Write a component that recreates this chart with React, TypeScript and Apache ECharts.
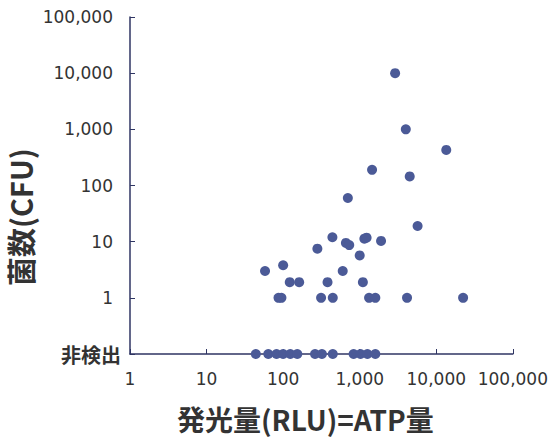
import React, { useEffect, useRef } from "react";
import * as echarts from "echarts";

// Detected samples: RLU (x) vs CFU (y)
const rluDetected = [2900, 4000, 13500, 1450, 4500, 700, 5700, 440, 660, 730, 1150, 1230, 1900, 280, 1000, 58, 100, 600, 122, 162, 380, 1100, 87, 95, 313, 445, 1325, 1600, 4150, 22400];
const cfuDetected = [10000, 1000, 430, 190, 145, 60, 19, 12, 9.5, 8.7, 11.3, 11.8, 10.3, 7.5, 5.7, 3.0, 3.8, 3.0, 1.9, 1.9, 1.9, 1.9, 1, 1, 1, 1, 1, 1, 1, 1];
// Not-detected samples (plotted on the 非検出 baseline)
const rluNotDetected = [44, 64, 82, 100, 124, 153, 261, 321, 445, 832, 1024, 1261, 1600];
const notDetectedLevel = 0.1;

const xTitle = "発光量(RLU)=ATP量";
const yTitle = "菌数(CFU)";
const notDetectedLabel = "非検出";

const fmt = (v: number) => Math.round(v).toString().replace(/\B(?=(\d{3})+(?!\d))/g, ",");

export default function App() {
  const ref = useRef<HTMLDivElement>(null);
  useEffect(() => {
    if (!ref.current) return;
    const chart = echarts.init(ref.current, null, { renderer: "svg" });
    const axisColor = "#2f3563";
    const textColor = "#333333";
    const pts = [
      ...rluDetected.map((x, i) => [x, cfuDetected[i]]),
      ...rluNotDetected.map((x) => [x, notDetectedLevel]),
    ];
    chart.setOption({
      animation: false,
      backgroundColor: "#ffffff",
      grid: { left: 130, right: 34, top: 17, bottom: 93, containLabel: false },
      xAxis: {
        type: "log",
        logBase: 10,
        min: 1,
        max: 100000,
        axisLine: { show: true, lineStyle: { color: axisColor, width: 1.5 } },
        axisTick: { show: true, inside: true, length: 5, lineStyle: { color: axisColor } },
        minorTick: { show: false },
        splitLine: { show: false },
        axisLabel: {
          color: textColor,
          fontFamily: "DejaVu Sans",
          fontSize: 17,
          margin: 16,
          formatter: (v: number) => fmt(v),
        },
      },
      yAxis: {
        type: "log",
        logBase: 10,
        min: 0.1,
        max: 100000,
        axisLine: { show: true, lineStyle: { color: axisColor, width: 1.5 } },
        axisTick: { show: true, inside: true, length: 5, lineStyle: { color: axisColor } },
        splitLine: { show: false },
        axisLabel: {
          color: textColor,
          fontFamily: "DejaVu Sans",
          fontSize: 17,
          margin: 17,
          formatter: (v: number) => (v < 0.5 ? "{nd|" + notDetectedLabel + "}" : fmt(v)),
          rich: {
            nd: { fontSize: 20, fontWeight: "bold", color: textColor, fontFamily: "Noto Sans CJK JP", padding: [0, -8, 0, 0] },
          },
        },
      },
      graphic: [
        {
          type: "text",
          left: 177,
          top: 405,
          style: {
            text: xTitle,
            fontSize: 28,
            fontWeight: "bold",
            fontFamily: "Noto Sans CJK JP",
            fill: textColor,
          },
        },
        {
          type: "text",
          x: 5,
          y: 286,
          rotation: Math.PI / 2,
          style: {
            text: yTitle,
            fontSize: 29,
            fontWeight: "bold",
            fontFamily: "Noto Sans CJK JP",
            fill: textColor,
            textVerticalAlign: "top",
          },
        },
      ],
      series: [
        {
          type: "scatter",
          data: pts,
          symbol: "circle",
          symbolSize: 10,
          itemStyle: { color: "#4b5a97", opacity: 1 },
          clip: false,
        },
      ],
    });
    return () => chart.dispose();
  }, []);
  return <div ref={ref} style={{ position: "fixed", left: 0, top: 0, width: 551, height: 447 }} />;
}
